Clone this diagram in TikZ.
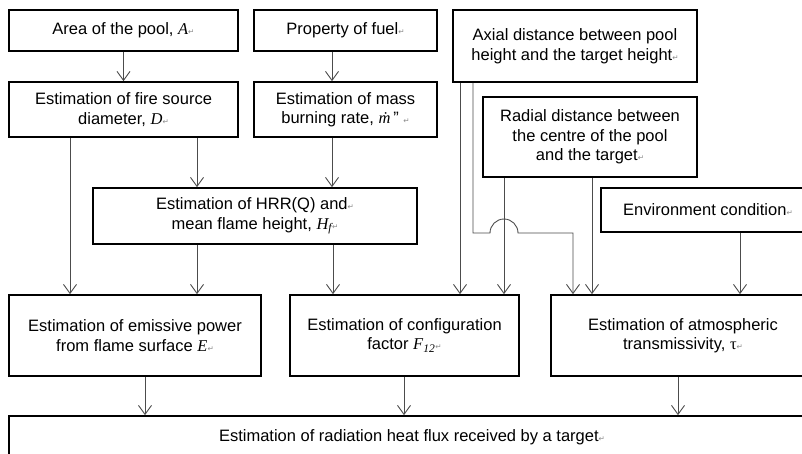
\documentclass[tikz,border=0pt]{standalone}
\usepackage{fontspec}
\setmainfont{Liberation Sans}
\newfontfamily\varfont{Liberation Serif}
\newfontfamily\markfont{DejaVu Sans}
\usetikzlibrary{arrows.meta}

\newcommand{\retmark}{{\markfont\fontsize{7.5}{7.5}\selectfont\textcolor{black!45}{↵}}}
\newcommand{\vname}[1]{{\varfont\itshape #1}}

\tikzset{
  box/.style={draw, line width=1.7pt, align=center, inner sep=0pt,
    font=\fontsize{16.5}{19.5}\selectfont},
  arr/.style={draw=black!70, line width=0.9pt,
    -{Straight Barb[length=9pt,width=13pt]}},
}

\begin{document}
\begin{tikzpicture}[x=1pt,y=-1pt]
      \fill[white] (0,0) rectangle (802,453);
      \useasboundingbox (0,0) rectangle (802,453);
      \clip (0,0) rectangle (802,453);

      % Entradas
      \node[box, minimum width=229pt, minimum height=41pt] (area) at (123.5,30.5) {Area of the pool, \vname{A}\retmark};
      \node[box, minimum width=183pt, minimum height=41pt] (fuel) at (345.5,30.5) {Property of fuel\retmark};
      \node[box, minimum width=244pt, minimum height=72pt] (axial) at (575,46) {Axial distance between pool\\height and the target height\retmark};
      \node[box, minimum width=214pt, minimum height=80pt] (radial) at (590,137) {Radial distance between\\the centre of the pool\\and the target\retmark};
      \node[box, minimum width=214pt, minimum height=44pt] (env) at (708,210) {Environment condition\retmark};

      % Estimaciones
      \node[box, minimum width=229pt, minimum height=55pt] (diam) at (123.5,109.5) {Estimation of fire source\\diameter, \vname{D}\retmark};
      \node[box, minimum width=183pt, minimum height=55pt] (mass) at (345.5,109.5) {Estimation of mass\\burning rate, \vname{\.{m}}\,\symbol{34} \retmark};
      \node[box, minimum width=324pt, minimum height=56pt] (hrr) at (255,216) {Estimation of HRR(Q) and\retmark\\mean flame height, \vname{H\textsubscript{f}}\retmark};
      \node[box, minimum width=252pt, minimum height=81pt] (emis) at (135,335.5) {Estimation of emissive power\\from flame surface \vname{E}\retmark};
      \node[box, minimum width=229pt, minimum height=81pt] (config) at (404.5,335.5) {Estimation of configuration\\factor \vname{F\textsubscript{12}}\retmark};
      \node[box, minimum width=264pt, minimum height=81pt] (atmos) at (683,335.5) {Estimation of atmospheric\\transmissivity, {\varfont τ}\retmark};

      % Resultado
      \node[box, minimum width=806pt, minimum height=42pt] (flux) at (412,437) {Estimation of radiation heat flux received by a target\retmark};

      % Flechas
      \draw[arr] (area) -- (diam);
      \draw[arr] (fuel.south -| 332,0) -- (mass.north -| 332,0);
      \draw[arr] (diam.south -| 197,0) -- (hrr.north -| 197,0);
      \draw[arr] (mass.south -| 332,0) -- (hrr.north -| 332,0);
      \draw[arr] (diam.south -| 70,0) -- (emis.north -| 70,0);
      \draw[arr] (hrr.south -| 197,0) -- (emis.north -| 197,0);
      \draw[arr] (hrr.south -| 333,0) -- (config.north -| 333,0);
      \draw[arr] (axial.south -| 460,0) -- (config.north -| 460,0);
      \draw[arr] (radial.south -| 504,0) -- (config.north -| 504,0);
      \draw[arr] (axial.south -| 473,0) -- (473,233) -- (490,233)
        arc[start angle=180, end angle=0, radius=14pt] -- (573,233) -- (atmos.north -| 573,0);
      \draw[arr] (radial.south -| 592,0) -- (atmos.north -| 592,0);
      \draw[arr] (env.south -| 740,0) -- (atmos.north -| 740,0);
      \draw[arr] (emis.south -| 145,0) -- (flux.north -| 145,0);
      \draw[arr] (config.south -| 404,0) -- (flux.north -| 404,0);
      \draw[arr] (atmos.south -| 678,0) -- (flux.north -| 678,0);
\end{tikzpicture}
\end{document}
